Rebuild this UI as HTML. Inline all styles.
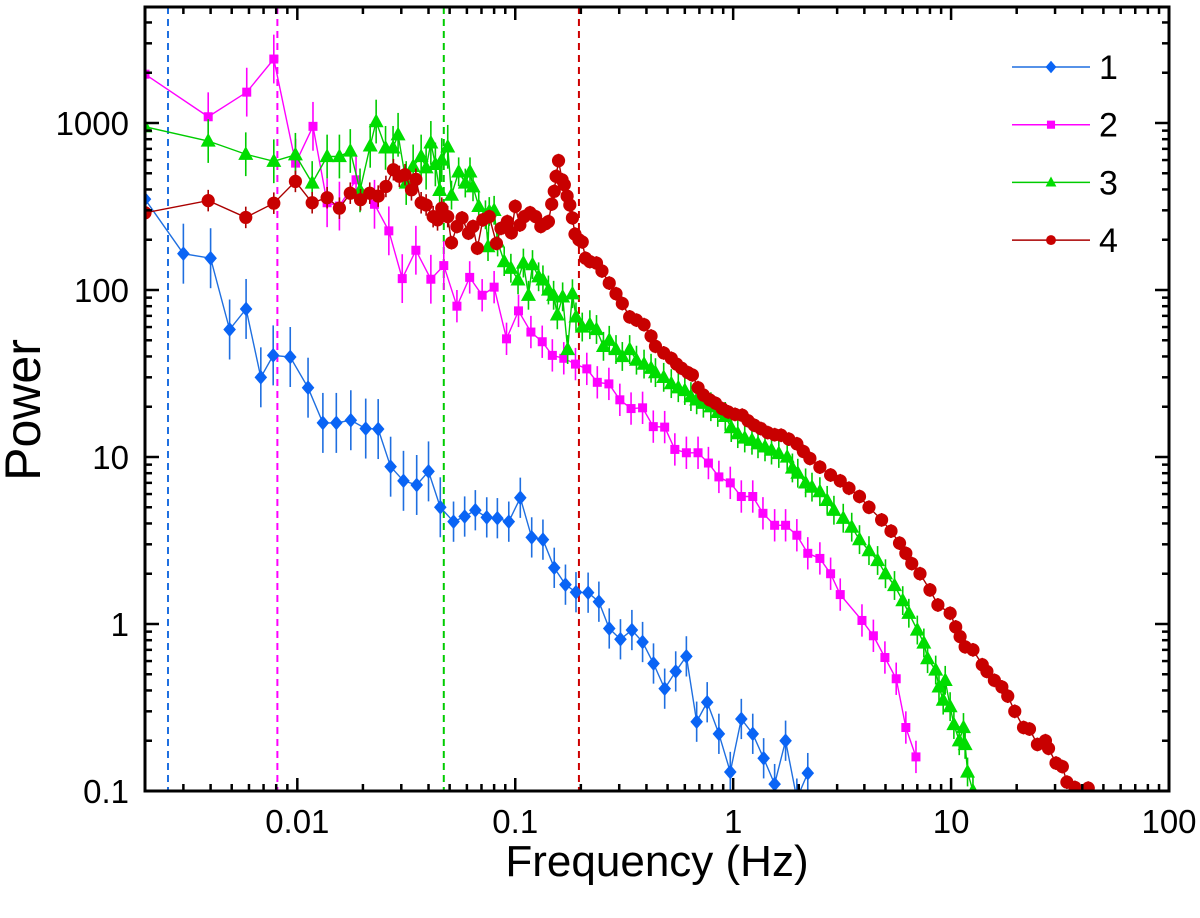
<!DOCTYPE html>
<html><head><meta charset="utf-8"><style>
html,body{margin:0;padding:0;background:#fff;}
svg text{font-family:"Liberation Sans",Arial,sans-serif;fill:#000;}
</style></head><body>
<svg id="chart" width="1200" height="913" viewBox="0 0 1200 913" xmlns="http://www.w3.org/2000/svg">
<defs><clipPath id="clip"><rect x="145" y="7" width="1024" height="784"/></clipPath></defs>
<g id="plot" clip-path="url(#clip)"></g>
<g id="axes"></g>
<g id="legend"></g>
<text x="657" y="876" font-size="44" text-anchor="middle">Frequency (Hz)</text>
<text x="0" y="0" font-size="50" text-anchor="middle" transform="translate(40,410) rotate(-90)">Power</text>
</svg>
<script>
const xTicks=[0.01,0.1,1,10,100];
const xTickLabels=["0.01","0.1","1","10","100"];
const yTicks=[0.1,1,10,100,1000];
const yTickLabels=["0.1","1","10","100","1000"];
const vLines=[0.00255,0.0081,0.047,0.196];
const f1=[0.002,0.003,0.004,0.00489,0.00582,0.0068,0.00775,0.00928,0.0112,0.0131,0.0151,0.0176,0.0206,0.0235,0.0268,0.0307,0.0353,0.040,0.0453,0.0521,0.0586,0.0656,0.074,0.0828,0.0934,0.1055,0.119,0.134,0.151,0.17,0.19,0.216,0.242,0.27,0.304,0.343,0.384,0.431,0.485,0.545,0.61,0.68,0.76,0.86,0.97,1.09,1.23,1.38,1.55,1.74,1.96,2.2];
const p1=[350,165,155,58,77,30,40.6,39.7,26,16,16,16.6,14.8,14.7,8.75,7.2,6.8,8.2,5.0,4.1,4.4,4.8,4.35,4.3,4.1,5.7,3.3,3.2,2.17,1.72,1.55,1.54,1.36,0.94,0.81,0.92,0.78,0.58,0.41,0.52,0.64,0.26,0.34,0.22,0.13,0.27,0.22,0.157,0.11,0.2,0.09,0.128];
const f2=[0.002,0.0039,0.00586,0.0078,0.00982,0.0118,0.0137,0.0156,0.0186,0.0226,0.0263,0.0303,0.035,0.041,0.047,0.054,0.0618,0.0705,0.08,0.0912,0.1035,0.118,0.133,0.148,0.167,0.189,0.213,0.238,0.269,0.302,0.34,0.384,0.43,0.485,0.54,0.61,0.69,0.77,0.86,0.97,1.09,1.23,1.37,1.55,1.74,1.96,2.2,2.5,2.8,3.1,3.9,4.4,4.97,5.6,6.2,6.9];
const p2=[1960,1090,1530,2415,575,955,333,318,457,326,226,117,173,116,140,80,119,93,104,51,75,56,49,40.6,39,36,33.7,28,27.4,22,19.5,19.7,15.2,15.1,11.1,10.6,10.6,9.2,7.6,7.0,5.8,5.8,4.6,3.9,3.9,3.4,2.65,2.47,2.0,1.5,1.05,0.85,0.63,0.47,0.24,0.16];
const f3=[0.002,0.0039,0.0058,0.0078,0.0098,0.0117,0.0137,0.0156,0.0175,0.0194,0.0216,0.023,0.0254,0.0275,0.029,0.0316,0.034,0.037,0.039,0.041,0.043,0.045,0.046,0.049,0.051,0.055,0.059,0.062,0.064,0.068,0.073,0.075,0.076,0.080,0.083,0.089,0.0955,0.103,0.109,0.115,0.12,0.128,0.134,0.142,0.15,0.156,0.165,0.174,0.183,0.19,0.203,0.22,0.236,0.254,0.27,0.29,0.31,0.335,0.36,0.39,0.42,0.44,0.48,0.52,0.56,0.6,0.64,0.68,0.73,0.79,0.85,0.92,0.98,1.05,1.13,1.22,1.3,1.4,1.5,1.62,1.77,1.87,1.98,2.15,2.3,2.5,2.7,2.9,3.2,3.5,3.8,4.2,4.6,5.0,5.5,6.0,6.4,7.0,7.5,7.8,8.5,8.8,9.2,9.4,9.9,10.3,10.9,11.4,11.6,11.9,12.6];
const p3=[950,780,650,590,645,437,630,630,680,395,730,1020,710,710,850,437,550,630,540,760,565,395,600,720,370,510,437,510,415,317,282,182,295,300,194,148,135,115,145,93,142,120,115,100,93,71,91,44,95,69,60,62,58,46,50,44,40,44,38,36,34,32,30,27.5,26,25,23,22,21,20,18.5,17.5,15,13.8,13,12.6,12,11.5,11,10.5,10,8.6,8,7,6.6,6.2,5.5,4.8,4.3,3.8,3.2,2.75,2.4,2.0,1.7,1.38,1.16,0.92,0.77,0.62,0.53,0.42,0.35,0.46,0.32,0.25,0.2,0.24,0.19,0.13,0.1];
const f4=[0.002,0.0039,0.0058,0.0078,0.0098,0.0117,0.0137,0.0156,0.0175,0.0195,0.0215,0.0235,0.0255,0.0276,0.0294,0.0312,0.0334,0.035,0.037,0.039,0.042,0.044,0.046,0.049,0.051,0.054,0.057,0.061,0.064,0.067,0.071,0.076,0.082,0.086,0.092,0.096,0.1,0.105,0.11,0.117,0.124,0.131,0.138,0.142,0.147,0.151,0.154,0.158,0.164,0.168,0.173,0.178,0.183,0.188,0.196,0.203,0.21,0.22,0.236,0.25,0.27,0.29,0.31,0.335,0.36,0.39,0.42,0.44,0.48,0.52,0.55,0.58,0.62,0.65,0.69,0.73,0.78,0.83,0.89,0.95,1.02,1.1,1.17,1.25,1.34,1.44,1.55,1.66,1.8,1.96,2.1,2.25,2.5,2.8,3.1,3.4,3.8,4.2,4.8,5.3,5.8,6.2,6.6,7.2,8.0,8.7,9.9,10.5,11.0,11.6,12.6,13.9,14.6,15.8,17.1,18.2,19.6,21.5,22.9,24.9,27.1,28.0,30.3,32.4,34.0,37.0,42.6];
const p4=[290,343,272,331,447,333,357,309,380,347,380,365,417,525,479,490,398,460,333,323,275,263,309,275,192,240,270,219,240,178,263,275,190,234,257,220,317,245,275,290,275,240,250,257,327,390,479,595,457,427,365,323,270,216,200,194,155,148,145,130,110,95,83,69,66,62,53,46,42,39,36,34,32,31,26,23.5,22,21,19.5,18.6,18,17.8,16.5,15.5,14.8,14,13.6,13.5,12.8,12,10.8,9.8,8.7,7.8,7.2,6.5,5.8,5.0,4.2,3.6,3.05,2.65,2.3,2.0,1.6,1.3,1.16,0.96,0.84,0.73,0.7,0.57,0.52,0.46,0.42,0.37,0.30,0.24,0.235,0.19,0.20,0.18,0.147,0.14,0.113,0.105,0.104];
const legendLabels=["1","2","3","4"];

const NS="http://www.w3.org/2000/svg";
const X0=145,X1=1169,Y0=791,Y1=7;
const xMinL=Math.log10(0.002),xMaxL=2;
const yMinL=-1,dec=167;
function xs(f){return X0+(Math.log10(f)-xMinL)/(xMaxL-xMinL)*(X1-X0);}
function ys(p){return Y0-(Math.log10(p)-yMinL)*dec;}
function mk(tag,attrs,parent){const e=document.createElementNS(NS,tag);for(const k in attrs)e.setAttribute(k,attrs[k]);parent.appendChild(e);return e;}
const plot=document.getElementById('plot'),axes=document.getElementById('axes'),legend=document.getElementById('legend');

const vColors=["#1f6fe0","#ff00ff","#00cc00","#cc0000"];
vLines.forEach((f,i)=>{const l=mk('line',{x1:xs(f),x2:xs(f),y1:Y1,y2:Y0,stroke:vColors[i],'stroke-width':2,'stroke-dasharray':'7,5'},plot);

});

const series=[
 {f:f1,p:p1,line:"#1f6fe0",fill:"#0a64f5",m:"diamond",e:0.32,s:1.05},
 {f:f2,p:p2,line:"#ff00ff",fill:"#ff00ff",m:"square",e:0.25,s:1},
 {f:f3,p:p3,line:"#00cc00",fill:"#00dd00",m:"triangle",e:0.22,s:1.25},
 {f:f4,p:p4,line:"#aa0000",fill:"#c80000",m:"circle",e:0.1,s:1.2}];
function marker(type,x,y,col,parent,s){
 s=s||1;let e;
 if(type==="diamond")e=mk('polygon',{points:`${x},${y-7*s} ${x+6*s},${y} ${x},${y+7*s} ${x-6*s},${y}`,fill:col},parent);
 else if(type==="square")e=mk('rect',{x:x-4.5*s,y:y-4.5*s,width:9*s,height:9*s,fill:col},parent);
 else if(type==="triangle")e=mk('polygon',{points:`${x},${y-6.5*s} ${x+6*s},${y+4.5*s} ${x-6*s},${y+4.5*s}`,fill:col},parent);
 else e=mk('circle',{cx:x,cy:y,r:5.5*s,fill:col},parent);
 return e;}
series.forEach((s,si)=>{
 const g=mk('g',{},plot);
 
 
 const pts=s.f.map((f,i)=>xs(f)+','+ys(s.p[i])).join(' ');
 const pl=mk('polyline',{points:pts,fill:'none',stroke:s.line,'stroke-width':1.4},g);
 
 
 s.f.forEach((f,i)=>{
  const rel=s.e*(f<0.05?1.6:1);
  const eb=mk('line',{x1:xs(f),x2:xs(f),y1:ys(s.p[i]*(1+rel)),y2:ys(s.p[i]/(1+rel)),stroke:s.line,'stroke-width':1.6},g);
  
  
 });
 s.f.forEach((f,i)=>{
  const m=marker(s.m,xs(f),ys(s.p[i]),s.fill,g,s.s);
  
  
 });
});

const fr=mk('rect',{x:X0,y:Y1,width:X1-X0,height:Y0-Y1,fill:'none',stroke:'#000','stroke-width':3},axes);


for(let d=-3;d<=2;d++){for(let k=1;k<10;k++){const v=k*Math.pow(10,d);if(v<0.002-1e-9||v>100+1e-9)continue;
 const x=xs(v),len=k===1?13:7;
 const t1=mk('line',{x1:x,x2:x,y1:Y0,y2:Y0-len,stroke:'#000','stroke-width':2.5},axes);
 
 
 const t2=mk('line',{x1:x,x2:x,y1:Y1,y2:Y1+len,stroke:'#000','stroke-width':2.5},axes);
 
 }}
xTicks.forEach((v,i)=>{const t=mk('text',{x:xs(v),y:833,'font-size':33,'text-anchor':'middle'},axes);t.textContent=xTickLabels[i];
 
 });
for(let d=-1;d<=3;d++){for(let k=1;k<10;k++){const v=k*Math.pow(10,d);const y=ys(v);if(y<Y1)continue;
 const len=k===1?14:7;
 const t1=mk('line',{x1:X0,x2:X0+len,y1:y,y2:y,stroke:'#000','stroke-width':2.5},axes);
 
 
 const t2=mk('line',{x1:X1,x2:X1-len,y1:y,y2:y,stroke:'#000','stroke-width':2.5},axes);
 
 }}
yTicks.forEach((v,i)=>{const t=mk('text',{x:129,y:ys(v)+12,'font-size':33,'text-anchor':'end'},axes);t.textContent=yTickLabels[i];
 
 });
series.forEach((s,i)=>{const y=67+i*57.7;
 const g=mk('g',{},legend);
 
 
 mk('line',{x1:1012,x2:1090,y1:y,y2:y,stroke:s.line,'stroke-width':1.5},g);
 marker(s.m,1051,y,s.fill,g,0.9);
 const t=mk('text',{x:1099,y:y+12,'font-size':34},g);t.textContent=legendLabels[i];});
</script>
</body></html>
